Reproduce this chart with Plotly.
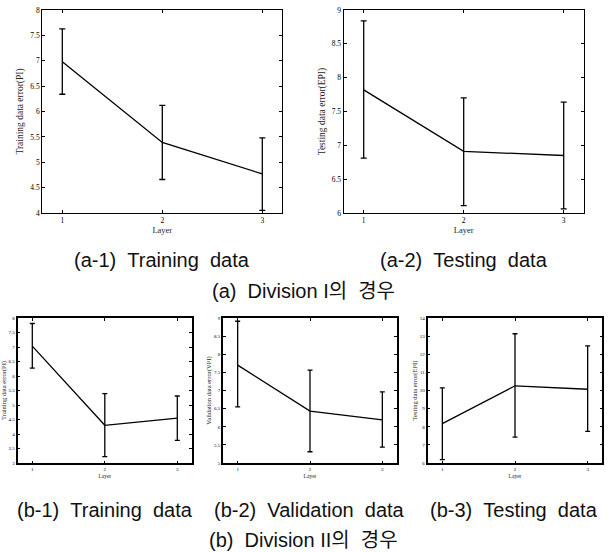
import plotly.graph_objects as go

layers = [1, 2, 3]

# (a-1) Division I - Training
a1_mean = [6.98, 5.39, 4.77]
a1_upper = [7.63, 6.12, 5.48]
a1_lower = [6.34, 4.66, 4.05]
# (a-2) Division I - Testing
a2_mean = [7.82, 6.91, 6.85]
a2_upper = [8.84, 7.70, 7.64]
a2_lower = [6.81, 6.11, 6.06]
# (b-1) Division II - Training
b1_mean = [7.03, 4.30, 4.55]
b1_upper = [7.81, 5.39, 5.31]
b1_lower = [6.27, 3.22, 3.78]
# (b-2) Division II - Validation
b2_mean = [7.70, 6.43, 6.19]
b2_upper = [8.91, 7.56, 6.96]
b2_lower = [6.55, 5.31, 5.44]
# (b-3) Division II - Testing
b3_mean = [8.17, 10.26, 10.07]
b3_upper = [10.15, 13.13, 12.46]
b3_lower = [6.19, 7.43, 7.74]

y_titles = ["Training data error(PI)", "Testing data error(EPI)",
            "Training data error(PI)", "Validation data error(VPI)",
            "Testing data error(EPI)"]
y_ranges = [[4, 8], [6, 9], [3, 8], [5, 9], [6, 14]]
y_dticks = [0.5, 0.5, 0.5, 0.5, 1]
x_title = "Layer"

captions_a = ["(a-1)\u00a0\u00a0Training\u00a0\u00a0data", "(a-2)\u00a0\u00a0Testing\u00a0\u00a0data"]
caption_a = "(a)\u00a0\u00a0Division\u00a0I의\u00a0\u00a0경우"
captions_b = ["(b-1)\u00a0\u00a0Training\u00a0\u00a0data", "(b-2)\u00a0\u00a0Validation\u00a0\u00a0data",
              "(b-3)\u00a0\u00a0Testing\u00a0\u00a0data"]
caption_b = "(b)\u00a0\u00a0Division\u00a0II의\u00a0\u00a0경우"

W, H = 612, 552
panels = [
    (a1_mean, a1_upper, a1_lower, (42.3, 282.3), (10, 213), True),
    (a2_mean, a2_upper, a2_lower, (343.7, 583.7), (10, 213), True),
    (b1_mean, b1_upper, b1_lower, (17.8, 191.8), (318, 463), False),
    (b2_mean, b2_upper, b2_lower, (223.2, 396.8), (318, 463), False),
    (b3_mean, b3_upper, b3_lower, (427.8, 602.2), (318, 463), False),
]

fig = go.Figure()
serif = "Liberation Serif, Times New Roman, serif"
sans = "Liberation Sans, Arial, Noto Sans CJK KR, sans-serif"

for i, (m, up, lo, (x0, x1), (y0, y1), big) in enumerate(panels):
    n = "" if i == 0 else str(i + 1)
    fig.add_trace(go.Scatter(
        x=layers, y=m, mode="lines",
        line=dict(color="black", width=1.3),
        error_y=dict(type="data", symmetric=False,
                     array=[u - v for u, v in zip(up, m)],
                     arrayminus=[v - l for v, l in zip(m, lo)],
                     color="black", thickness=1.3, width=3 if big else 2.5),
        xaxis="x" + n, yaxis="y" + n, showlegend=False, hoverinfo="skip",
    ))
    tf = 7.5 if big else 5
    titf = 9.5 if big else 6.5
    lw = 1.3 if big else 2
    common = dict(showline=True, linecolor="black", linewidth=lw, mirror="allticks",
                  ticks="inside", ticklen=3 if big else 2.5, tickcolor="black",
                  tickwidth=1, showgrid=False, zeroline=False,
                  tickfont=dict(family=serif, size=tf, color="black"))
    fig.layout["xaxis" + n] = dict(
        common, domain=[x0 / W, x1 / W], range=[0.8, 3.2],
        tickvals=layers, ticktext=[str(v) for v in layers],
        anchor="y" + n,
        title=dict(text=x_title, font=dict(family=serif, size=titf - 1, color="#222"),
                   standoff=1 if big else 3),
    )
    fig.layout["yaxis" + n] = dict(
        common, domain=[1 - y1 / H, 1 - y0 / H], range=y_ranges[i],
        dtick=y_dticks[i], tick0=y_ranges[i][0], anchor="x" + n,
        title=dict(text=y_titles[i], font=dict(family=serif, size=titf, color="#222"),
                   standoff=4 if big else 2),
    )

annots = []
for txt, cx in zip(captions_a, [162, 463.7]):
    annots.append(dict(text=txt, x=cx / W, y=1 - 260 / H))
annots.append(dict(text=caption_a, x=303 / W, y=1 - 291 / H))
for txt, cx in zip(captions_b, [105, 309, 514]):
    annots.append(dict(text=txt, x=cx / W, y=1 - 510 / H))
annots.append(dict(text=caption_b, x=303 / W, y=1 - 540 / H))
for a in annots:
    a.update(xref="paper", yref="paper", showarrow=False, xanchor="center",
             yanchor="middle", font=dict(family=sans, size=20, color="#111"))
    fig.add_annotation(**a)

fig.update_layout(template="none", width=W, height=H, margin=dict(l=0, r=0, t=0, b=0),
                  paper_bgcolor="white", plot_bgcolor="white",
                  font=dict(family=serif, color="#222"))

fig.write_html("out.html", config={"displayModeBar": False},
               post_script="document.body.style.margin='0';document.body.style.overflow='hidden';")
